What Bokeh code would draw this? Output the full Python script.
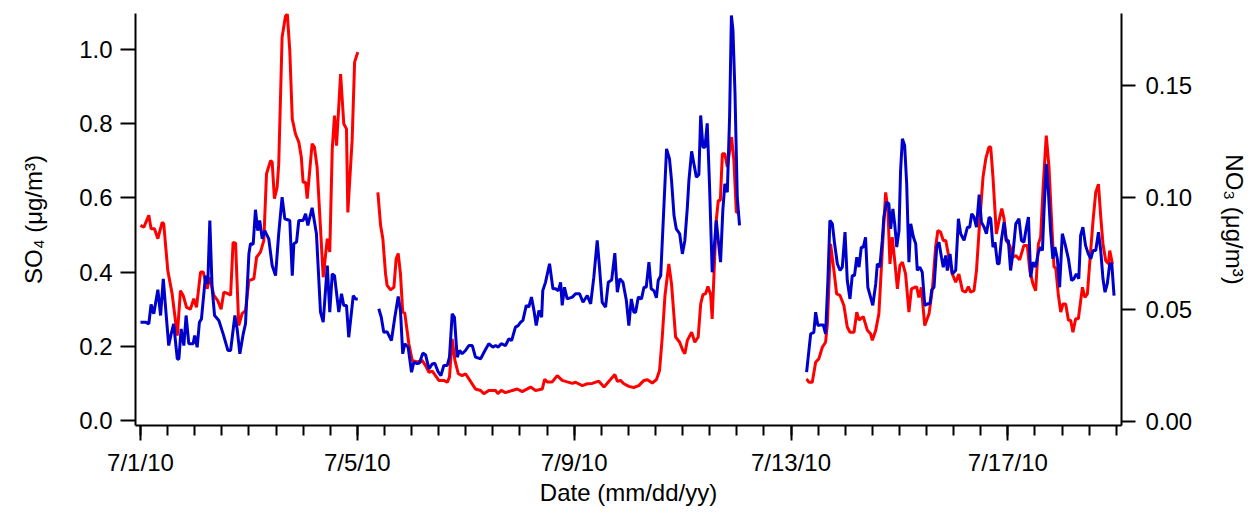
import math
from bokeh.plotting import figure
from bokeh.models import Range1d, LinearAxis, FixedTicker, NumeralTickFormatter
from bokeh.embed import file_html
from bokeh.resources import INLINE

# ---- data: (hours since 7/1/10 00:00, value) ----
# SO4 (ug/m3), left axis
so4_seg1 = [(0, .526), (1.5, .521), (3.7, .553), (4.7, .517), (6.2, .517), (7.7, .49), (9.6, .534), (10.3, .53),
            (12.1, .404), (14.0, .342), (16.3, .229), (17.7, .35), (18.9, .337), (20.4, .305), (22.1, .30),
            (23.6, .328), (24.8, .305), (26.6, .40), (27.8, .40), (29.5, .355), (30.7, .386), (32.5, .337),
            (34.2, .323), (35.7, .30), (36.9, .346), (39.1, .341), (39.9, .337), (41.0, .48), (42.1, .478),
            (43.5, .256), (45.0, .288), (46.5, .296), (48.0, .377), (50.2, .382), (51.4, .44), (53.1, .454),
            (54.6, .485), (55.8, .665), (57.6, .70), (58.3, .697), (59.3, .598), (60.5, .629), (61.2, .69),
            (62.7, 1.033), (64.2, 1.09), (65.0, 1.096), (66.1, .997), (67.2, .813), (68.6, .773), (70.1, .75),
            (71.2, .71), (72.0, .642), (73.1, .642), (73.8, .598), (76.0, .746), (77.0, .737), (78.2, .683),
            (80.9, .386), (82.7, .49), (83.8, .454), (84.9, .732), (85.9, .822), (86.8, .741), (88.6, .934),
            (90.0, .80), (91.2, .786), (91.8, .561), (93.7, .755), (94.8, .966), (96.2, .993)]
so4_seg2 = [(105.1, .615), (106.3, .526), (107.3, .49), (108.5, .395), (109.2, .364), (110.7, .352), (112.2, .359),
            (113.2, .436), (114.1, .45), (115.1, .395), (116.1, .292), (117.0, .29), (118.8, .207), (120.3, .162),
            (122.5, .158), (124.7, .162), (126.2, .148), (127.7, .13), (129.2, .133), (130.6, .121), (132.1, .108),
            (134.3, .108), (135.8, .103), (136.8, .117), (138.0, .22), (139.2, .162), (140.7, .126), (142.4, .121),
            (143.9, .126), (145.4, .112), (148.3, .085), (150.6, .081), (152.0, .072), (154.2, .081), (157.2, .081),
            (158.2, .072), (159.7, .081), (161.6, .075), (164.6, .081), (166.8, .085), (169.0, .078), (172.7, .09),
            (174.9, .081), (177.9, .085), (178.9, .111), (180.1, .104), (182.3, .104), (184.5, .121), (186.7, .108),
            (188.9, .104), (191.2, .10), (192.6, .103), (195.6, .094), (197.8, .099), (200.0, .10), (202.9, .106),
            (205.2, .09), (207.4, .106), (210.0, .124), (211.1, .106), (212.5, .108), (214.0, .099), (216.2, .092),
            (218.4, .089), (220.6, .094), (222.9, .108), (224.4, .11), (226.6, .101), (228.4, .11), (229.8, .135),
            (231.0, .225), (232.2, .337), (233.9, .422), (235.1, .368), (236.9, .225), (238.7, .211), (240.1, .189),
            (241.0, .18), (242.1, .216), (244.0, .238), (245.4, .211), (246.9, .225), (248.0, .314), (249.0, .339),
            (250.2, .342), (251.2, .361), (252.4, .34), (253.1, .274), (253.9, .395), (254.9, .539), (255.8, .593),
            (256.7, .593), (257.6, .719), (258.7, .719), (259.8, .683), (261.7, .764), (262.7, .701), (263.8, .561),
            (264.7, .561)]
so4_seg3 = [(294.9, .112), (295.9, .103), (297.4, .103), (298.9, .157), (300.3, .166), (301.9, .198), (303.3, .211),
            (304.1, .261), (305.5, .476), (307.0, .404), (308.2, .341), (309.7, .337), (311.4, .31), (312.9, .252),
            (314.1, .238), (315.9, .238), (317.1, .292), (318.1, .271), (320.0, .28), (321.8, .243), (323.2, .234),
            (324.0, .216), (325.5, .243), (326.9, .288), (328.4, .458), (329.9, .615), (330.9, .566), (331.8, .422),
            (332.8, .494), (333.9, .431), (335.1, .355), (336.2, .418), (337.3, .427), (338.7, .395), (340.2, .292),
            (341.3, .355), (342.7, .359), (343.6, .36), (344.6, .332), (345.7, .359), (347.2, .256), (349.1, .288),
            (350.6, .355), (352.0, .467), (353.0, .512), (354.2, .508), (355.4, .485), (356.5, .485), (357.9, .44),
            (359.4, .395), (360.9, .373), (362.3, .395), (363.9, .35), (365.3, .346), (366.5, .361), (367.5, .346),
            (369.0, .35), (370.1, .404), (371.5, .534), (373.0, .656), (374.2, .705), (375.6, .737), (376.4, .737),
            (377.4, .656), (378.9, .503), (380.1, .539), (381.3, .571), (382.3, .544), (383.3, .485), (384.8, .472),
            (386.3, .44), (387.5, .445), (389.2, .433), (391.1, .472), (392.6, .472), (393.7, .404), (395.1, .368),
            (396.3, .35), (397.5, .476), (398.5, .494), (399.6, .629), (401.0, .768), (402.2, .683), (403.4, .532),
            (404.4, .415), (405.2, .41), (406.3, .341), (407.4, .292), (408.4, .314), (409.6, .314), (410.8, .27),
            (411.8, .27), (412.8, .238), (414.0, .274), (415.2, .274), (417.0, .359), (418.1, .332), (419.2, .341),
            (420.2, .422), (421.7, .539), (422.9, .615), (424.1, .637), (425.1, .55), (426.1, .476), (427.3, .431),
            (428.5, .422), (429.1, .458), (430.3, .422)]

# NO3 (ug/m3), right axis
no3_seg1 = [(0, .0442), (2.2, .0442), (3.7, .0435), (4.7, .0521), (5.9, .048), (7.7, .0587), (8.9, .0472),
            (10.1, .0636), (11.1, .0509), (12.5, .0338), (13.6, .039), (14.7, .0435), (16.3, .0279), (17.0, .0277),
            (18.0, .0412), (19.2, .0338), (20.2, .0472), (21.4, .0346), (23.3, .0346), (24.0, .0383), (25.1, .033),
            (26.1, .0442), (27.0, .0457), (28.8, .065), (29.8, .0613), (30.7, .0896), (31.7, .0598), (32.8, .0472),
            (34.7, .045), (36.6, .039), (38.7, .0316), (39.9, .0316), (41.8, .0472), (42.8, .0412), (44.0, .0301),
            (45.5, .039), (46.5, .0435), (48.0, .0747), (48.7, .0792), (49.9, .079), (50.9, .0944), (51.9, .0851),
            (52.8, .0896), (53.9, .0814), (55.0, .0851), (56.8, .0814), (58.3, .0695), (59.8, .065), (61.2, .0837),
            (62.7, .100), (63.9, .0904), (66.1, .0896), (67.2, .065), (67.9, .0792), (69.1, .080), (70.1, .0896),
            (72.0, .0896), (73.1, .0926), (74.1, .0874), (76.0, .0953), (77.9, .0837), (79.7, .0487), (80.9, .0442),
            (82.7, .0695), (83.8, .0487), (84.9, .0658), (85.9, .065), (87.8, .0487), (89.0, .0569), (90.0, .0517),
            (91.2, .0517), (92.2, .0375), (94.2, .0561), (95.2, .0546), (96.2, .0546)]
no3_seg2 = [(105.5, .0502), (106.6, .0464), (107.7, .0397), (109.2, .0399), (111.1, .036), (112.6, .0464),
            (114.1, .0557), (115.1, .0494), (116.1, .0301), (117.0, .0346), (118.5, .033), (120.0, .0219),
            (121.0, .0263), (122.5, .0257), (123.5, .026), (125.0, .0304), (126.2, .0297), (127.7, .0234),
            (129.2, .0256), (130.3, .0259), (131.8, .022), (133.0, .0204), (134.3, .0249), (135.8, .0249),
            (136.8, .0286), (138.0, .0479), (139.0, .0464), (140.2, .0286), (141.3, .0316), (142.4, .0301),
            (143.9, .0316), (145.4, .0338), (146.9, .0338), (148.3, .0286), (150.6, .0279), (152.5, .0316),
            (154.2, .0346), (156.0, .0331), (157.2, .0338), (158.4, .0331), (159.7, .0346), (161.6, .0338),
            (163.1, .0368), (164.3, .036), (166.0, .042), (167.2, .0427), (168.3, .0442), (169.3, .045),
            (170.8, .0517), (171.9, .051), (173.1, .0554), (174.2, .0494), (175.2, .0427), (176.4, .0494),
            (177.6, .0464), (178.1, .0583), (179.3, .062), (181.1, .0703), (182.6, .0591), (183.8, .0591),
            (185.0, .0583), (186.0, .062), (186.7, .0517), (187.7, .0598), (188.9, .0546), (191.2, .0554),
            (192.6, .0569), (194.4, .0569), (195.9, .0531), (197.8, .0561), (199.3, .0524), (200.7, .0643),
            (202.2, .0807), (203.2, .0688), (204.4, .0531), (205.9, .0509), (207.1, .062), (208.6, .063),
            (210.0, .075), (211.1, .0576), (212.2, .0636), (213.6, .062), (215.1, .0539), (216.2, .0427),
            (217.3, .0546), (218.4, .0487), (219.2, .0487), (220.4, .0554), (221.8, .0546), (222.9, .0598),
            (223.9, .0598), (225.1, .071), (226.1, .0591), (227.3, .0583), (228.4, .0551), (229.2, .0628),
            (230.3, .065), (231.3, .0866), (232.9, .1216), (234.2, .1171), (235.1, .1075), (236.2, .0918),
            (237.2, .0859), (238.7, .0837), (239.9, .0747), (241.0, .0807), (242.1, .0955), (242.8, .1075),
            (244.0, .1205), (245.0, .1149), (246.1, .1089), (247.2, .11), (248.0, .1365), (249.0, .1223),
            (249.9, .1223), (250.9, .133), (251.9, .106), (253.1, .0665), (253.9, .0762), (254.9, .0896),
            (255.8, .0807), (256.8, .071), (257.8, .094), (258.7, .106), (259.8, .1022), (260.8, .1357),
            (261.6, .1811), (262.3, .1744), (263.2, .1462), (264.2, .1), (265.2, .0874)]
no3_seg3 = [(294.9, .0219), (296.7, .039), (298.1, .0397), (298.9, .0487), (299.9, .0427), (301.1, .043),
            (302.3, .043), (303.3, .039), (304.3, .062), (305.2, .0896), (306.3, .0881), (307.3, .0792),
            (308.5, .0703), (309.7, .0673), (310.7, .0688), (311.9, .0844), (312.9, .0628), (314.1, .0546),
            (315.1, .065), (316.1, .065), (317.1, .0732), (318.1, .0688), (319.1, .0777), (320.0, .0777),
            (321.0, .0821), (322.0, .0598), (323.2, .0554), (324.2, .0517), (325.5, .0613), (326.2, .0703),
            (327.3, .0688), (328.4, .0807), (329.1, .0911), (330.3, .0978), (331.3, .0971), (332.1, .0859),
            (333.1, .0948), (333.9, .088), (334.8, .0777), (335.8, .0851), (336.5, .1119), (337.3, .1261),
            (338.3, .1231), (339.2, .106), (340.2, .071), (341.0, .0881), (342.2, .0821), (343.2, .0792),
            (343.9, .0673), (345.0, .0688), (346.1, .0665), (347.2, .0517), (348.4, .0524), (349.5, .0524),
            (350.3, .0587), (351.3, .0598), (352.5, .0777), (353.5, .0799), (354.6, .0732), (355.4, .0688),
            (356.5, .074), (357.2, .0673), (358.4, .0747), (359.4, .0658), (360.9, .0673), (362.1, .0904),
            (363.1, .0837), (364.6, .0807), (366.1, .0866), (367.1, .0866), (368.0, .0926), (369.0, .0911),
            (370.1, .0866), (371.3, .1012), (372.3, .0888), (373.5, .0866), (374.5, .0837), (375.7, .0911),
            (376.4, .0904), (377.4, .0777), (378.3, .0799), (379.4, .0703), (380.1, .0703), (381.1, .0807),
            (382.3, .0888), (383.3, .0807), (384.2, .0807), (385.2, .0673), (386.3, .0755), (387.5, .0881),
            (388.9, .0904), (390.0, .0807), (391.1, .0799), (392.2, .0866), (393.1, .0911), (394.1, .0643),
            (395.1, .071), (396.3, .0688), (397.5, .0755), (398.5, .0777), (399.3, .0762), (400.0, .0941),
            (401.0, .1149), (401.9, .103), (402.9, .0851), (403.9, .0725), (404.8, .0777), (405.9, .0725),
            (406.9, .0598), (408.1, .0837), (409.3, .0792), (410.8, .0725), (412.2, .0628), (413.2, .0636),
            (414.3, .0658), (415.4, .0636), (416.2, .0829), (417.2, .0866), (418.4, .0784), (419.6, .0747),
            (420.7, .0725), (421.7, .0762), (422.9, .0762), (424.1, .0844), (425.1, .0762), (426.1, .0636),
            (427.0, .0576), (428.0, .0613), (429.1, .0703), (430.0, .0703), (431.0, .0561)]

tick_hours = [0, 96, 192, 288, 384]
tick_labels = ["7/1/10", "7/5/10", "7/9/10", "7/13/10", "7/17/10"]
so4_ticks = [0.0, 0.2, 0.4, 0.6, 0.8, 1.0]
no3_ticks = [0.0, 0.05, 0.10, 0.15]

FONT = "Liberation Sans"
RED = "#ff0000"
BLUE = "#0000cc"

p = figure(width=1259, height=513, output_backend="svg", toolbar_location=None,
           x_range=Range1d(-2.2, 434.3), y_range=Range1d(-0.0135, 1.097),
           min_border_left=135, min_border_right=138, min_border_top=13, min_border_bottom=88)
p.outline_line_color = None
p.xgrid.visible = False
p.ygrid.visible = False
p.background_fill_color = "white"
p.border_fill_color = "white"

p.extra_y_ranges = {"no3": Range1d(-0.0019, 0.182)}

for seg in (so4_seg1, so4_seg2, so4_seg3):
    xs = [a for a, b in seg]
    ys = [b for a, b in seg]
    p.line(xs, ys, line_color=RED, line_width=3)
for seg in (no3_seg1, no3_seg2, no3_seg3):
    xs = [a for a, b in seg]
    ys = [b for a, b in seg]
    p.line(xs, ys, line_color=BLUE, line_width=3, y_range_name="no3")


def style(ax, size="24px"):
    ax.axis_line_color = "black"
    ax.axis_line_width = 2
    ax.major_tick_line_color = "black"
    ax.major_tick_line_width = 2
    ax.minor_tick_line_color = "black"
    ax.minor_tick_line_width = 2
    ax.major_tick_in = 0
    ax.minor_tick_in = 0
    ax.major_label_text_font = FONT
    ax.major_label_text_font_size = size
    ax.major_label_text_color = "black"
    ax.axis_label_text_font = FONT
    ax.axis_label_text_font_size = size
    ax.axis_label_text_font_style = "normal"
    ax.axis_label_text_color = "black"


# bottom axis
xax = p.xaxis[0]
style(xax)
xax.ticker = FixedTicker(ticks=tick_hours, minor_ticks=[12 * i for i in range(37)])
xax.major_label_overrides = {h: lab for h, lab in zip(tick_hours, tick_labels)}
xax.major_tick_out = 15
xax.minor_tick_out = 10
xax.major_label_standoff = 8
xax.axis_label = "Date (mm/dd/yy)"
xax.axis_label_standoff = 0

# left axis
yax = p.yaxis[0]
style(yax)
yax.ticker = FixedTicker(ticks=so4_ticks, minor_ticks=[])
yax.formatter = NumeralTickFormatter(format="0.0")
yax.major_tick_out = 15
yax.minor_tick_out = 0
yax.major_label_standoff = 8
yax.axis_label = "SO\u2084 (\u03bcg/m\u00b3)"
yax.axis_label_standoff = 29

# right axis
rax = LinearAxis(y_range_name="no3")
style(rax)
rax.ticker = FixedTicker(ticks=no3_ticks, minor_ticks=[])
rax.formatter = NumeralTickFormatter(format="0.00")
rax.major_tick_out = 14
rax.minor_tick_out = 0
rax.major_label_standoff = 10
rax.axis_label = "NO\u2083 (\u03bcg/m\u00b3)"
rax.axis_label_standoff = 26
p.add_layout(rax, "right")

open("out.html", "w").write(file_html(p, INLINE))
